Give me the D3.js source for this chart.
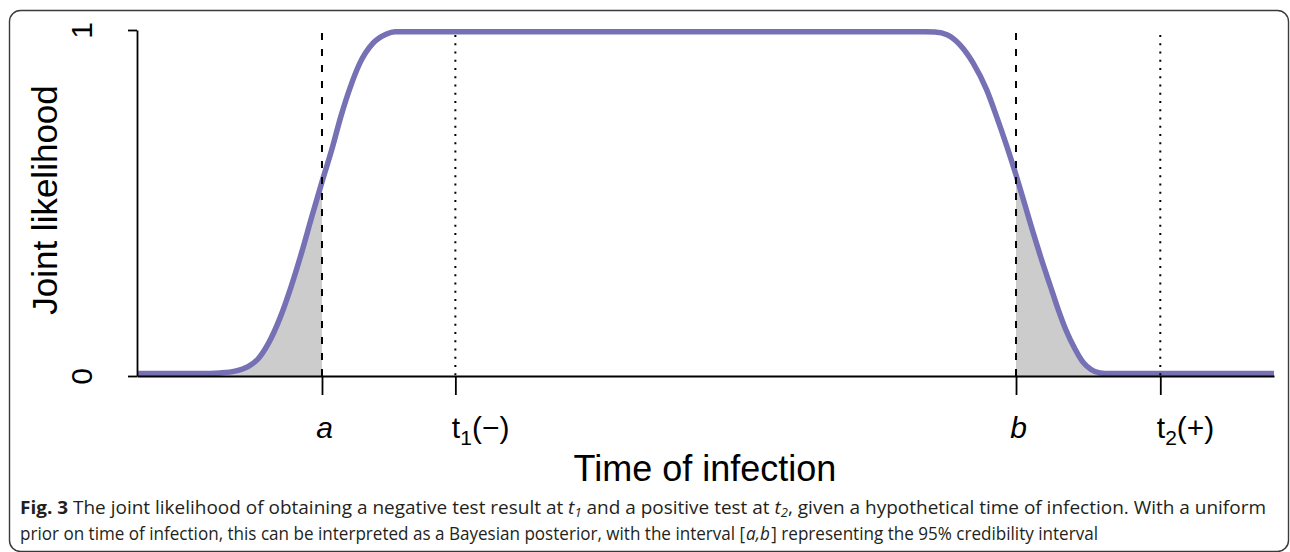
<!DOCTYPE html>
<html><head><meta charset="utf-8">
<script src="https://cdn.jsdelivr.net/npm/d3@7"></script>
<style>body{margin:0;background:#fff}</style>
</head><body>
<svg id="chart" width="1290" height="552"></svg>
<script>
// ---- data ----
const timePoints = [0, 5.54, 7.30, 8.62, 9.76, 10.64, 11.52, 12.58, 13.54, 14.49, 15.37, 16.27, 17.12, 17.94, 18.73, 19.61, 20.76, 21.90, 22.69,
  69.30, 70.18, 71.24, 72.38, 73.53, 74.73, 75.61, 76.49, 77.31, 78.10, 78.80, 79.51, 80.30, 81.00, 81.70, 82.50, 83.20, 83.91, 84.70, 85.58, 100];
const likelihood = [0.007, 0.007, 0.009, 0.014, 0.027, 0.049, 0.092, 0.168, 0.257, 0.358, 0.460, 0.561, 0.653, 0.751, 0.832, 0.905, 0.962, 0.988, 0.995,
  0.995, 0.994, 0.986, 0.957, 0.905, 0.827, 0.749, 0.665, 0.581, 0.494, 0.416, 0.341, 0.263, 0.194, 0.133, 0.078, 0.040, 0.019, 0.0087, 0.007, 0.007];
const xDomain = [0, 100];
const intervalBounds = [16.27, 77.31];      // a, b
const testTimes = [28, 90];                 // t1(-), t2(+)
const xTickValues = [16.27, 28, 77.31, 90];
const xTickMain = ["a", "t", "b", "t"];
const xTickSub = ["", "1", "", "2"];
const xTickSuffix = ["", "(\u2212)", "", "(+)"];
const xTickItalic = [true, false, true, false];
const yTickValues = [0, 1];
const yTickLabels = ["0", "1"];
const xTitle = "Time of infection";
const yTitle = "Joint likelihood";

const data = timePoints.map((t, i) => ({t, v: likelihood[i]}));
const svg = d3.select("#chart");
const SANS = "'Liberation Sans', Arial, Helvetica, sans-serif";

// border
svg.append("rect").attr("x", 9.5).attr("y", 10.5).attr("width", 1279).attr("height", 541)
  .attr("rx", 11).attr("fill", "none").attr("stroke", "#3a3a3a").attr("stroke-width", 1.4);

const x = d3.scaleLinear().domain(xDomain).range([137, 1274]);
const y = d3.scaleLinear().domain([0, 1]).range([376, 30]);

const defs = svg.append("defs");
defs.append("clipPath").attr("id", "clipL").append("rect")
  .attr("x", x(xDomain[0])).attr("y", 0).attr("width", x(intervalBounds[0]) - x(xDomain[0])).attr("height", 552);
defs.append("clipPath").attr("id", "clipR").append("rect")
  .attr("x", x(intervalBounds[1])).attr("y", 0).attr("width", x(xDomain[1]) - x(intervalBounds[1])).attr("height", 552);

const area = d3.area().x(d => x(d.t)).y0(y(0)).y1(d => y(d.v)).curve(d3.curveMonotoneX);
const line = d3.line().x(d => x(d.t)).y(d => y(d.v)).curve(d3.curveMonotoneX);

["clipL", "clipR"].forEach(id => {
  svg.append("path").datum(data).attr("d", area).attr("fill", "#cccccc").attr("clip-path", `url(#${id})`);
});

svg.append("path").datum(data).attr("d", line).attr("fill", "none")
  .attr("stroke", "#7670b5").attr("stroke-width", 5.5).attr("stroke-linejoin", "round");

// vertical reference lines
svg.selectAll(".ci").data(intervalBounds).enter().append("line")
  .attr("x1", d => x(d)).attr("x2", d => x(d)).attr("y1", y(1) + 3).attr("y2", y(0))
  .attr("stroke", "#000").attr("stroke-width", 2).attr("stroke-dasharray", "7,9");
svg.selectAll(".tt").data(testTimes).enter().append("line")
  .attr("x1", d => x(d)).attr("x2", d => x(d)).attr("y1", y(1) + 5).attr("y2", y(0))
  .attr("stroke", "#000").attr("stroke-width", 2).attr("stroke-dasharray", "2,6.25");

// y axis
const gy = svg.append("g").attr("transform", `translate(${x(xDomain[0])},0)`)
  .call(d3.axisLeft(y).tickValues(yTickValues).tickSize(9).tickSizeOuter(0).tickFormat((d, i) => yTickLabels[i]));
gy.select(".domain").attr("stroke-width", 1.8);
gy.selectAll(".tick line").attr("stroke-width", 1.8);
gy.selectAll(".tick text").attr("transform", "rotate(-90)").attr("x", 0).attr("y", -45).attr("dy", 0)
  .attr("text-anchor", "middle").style("font-family", SANS).style("font-size", "30px").attr("fill", "#000");

// x axis
const gx = svg.append("g").attr("transform", `translate(0,${y(0)})`)
  .call(d3.axisBottom(x).tickValues(xTickValues).tickSize(19).tickSizeOuter(0).tickFormat(""));
gx.select(".domain").attr("stroke-width", 1.8);
gx.selectAll(".tick line").attr("stroke-width", 1.8);
gx.selectAll(".tick text").remove();
gx.selectAll(".tick").each(function(d, i) {
  const t = d3.select(this).append("text").attr("y", 62).attr("fill", "#000")
    .style("font-family", SANS).style("font-size", "30px");
  if (xTickSub[i]) {
    t.attr("x", -4).attr("text-anchor", "start");
  } else {
    t.attr("x", 2).attr("text-anchor", "middle");
  }
  t.append("tspan").text(xTickMain[i]).style("font-style", xTickItalic[i] ? "italic" : "normal");
  if (xTickSub[i]) {
    t.append("tspan").attr("dy", 7).style("font-size", "21px").text(xTickSub[i]);
    t.append("tspan").attr("dy", -7).text(xTickSuffix[i]);
  }
});

// axis titles
svg.append("text").attr("x", 705).attr("y", 481).attr("text-anchor", "middle")
  .style("font-family", SANS).style("font-size", "36px").attr("fill", "#000").text(xTitle);
svg.append("text").attr("transform", "translate(57,200) rotate(-90)").attr("text-anchor", "middle")
  .style("font-family", SANS).style("font-size", "35px").attr("fill", "#000").text(yTitle);

// caption
const CAP = "'Open Sans', 'Noto Sans', sans-serif";
const capColor = "#231f20";
const c1 = svg.append("text").attr("x", 20).attr("y", 514).style("font-family", CAP).style("font-size", "17.5px")
  .attr("fill", capColor);
c1.append("tspan").style("font-weight", "bold").text("Fig. 3");
c1.append("tspan").text(" The joint likelihood of obtaining a negative test result at ");
c1.append("tspan").style("font-style", "italic").text("t");
c1.append("tspan").style("font-style", "italic").style("font-size", "12px").attr("dy", 3).text("1");
c1.append("tspan").attr("dy", -3).text(" and a positive test at ");
c1.append("tspan").style("font-style", "italic").text("t");
c1.append("tspan").style("font-style", "italic").style("font-size", "12px").attr("dy", 3).text("2");
c1.append("tspan").attr("dy", -3).text(", given a hypothetical time of infection. With a uniform");

const c2 = svg.append("text").attr("x", 20).attr("y", 540).style("font-family", CAP).style("font-size", "17.5px")
  .attr("fill", capColor);
c2.append("tspan").text("prior on time of infection, this can be interpreted as a Bayesian posterior, with the interval [");
c2.append("tspan").attr("dx", 1).style("font-style", "italic").text("a,b");
c2.append("tspan").attr("dx", 1.5).text("] representing the 95% credibility interval");

c1.attr("textLength", 1246).attr("lengthAdjust", "spacingAndGlyphs");
c2.attr("textLength", 1078).attr("lengthAdjust", "spacingAndGlyphs");
</script>
</body></html>
